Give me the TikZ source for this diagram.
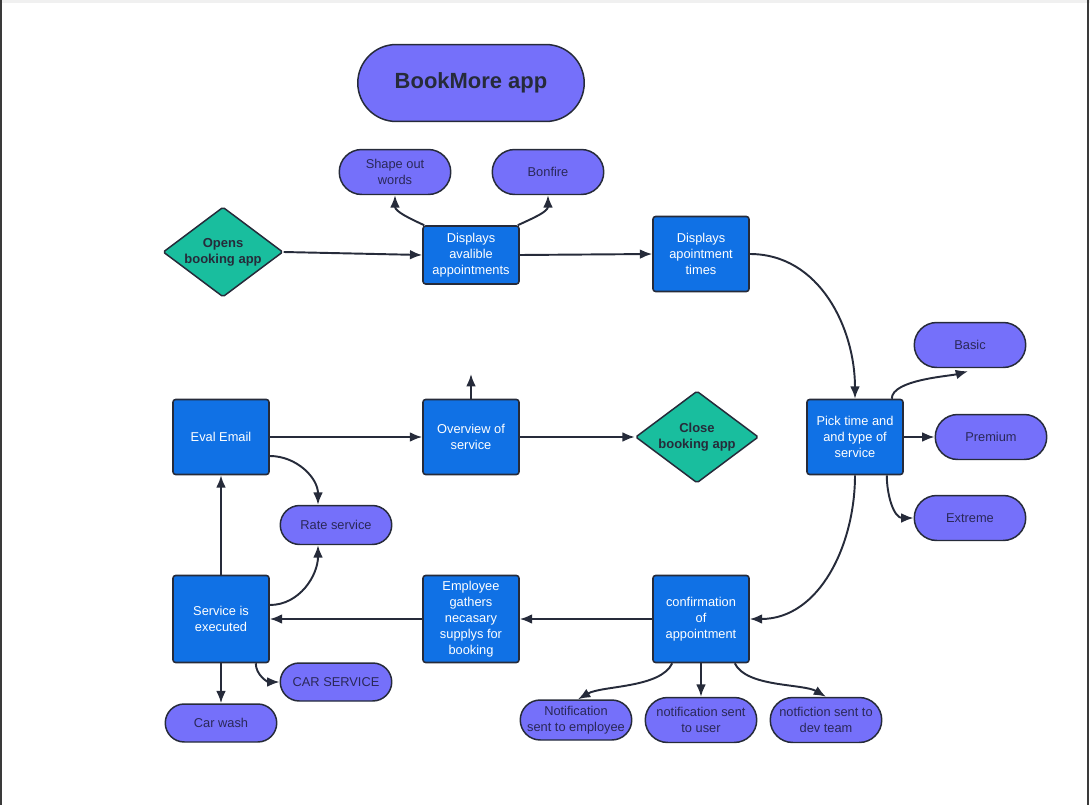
\documentclass[tikz,border=0pt]{standalone}
\usepackage{fontspec}
\setmainfont{Liberation Sans}
\usetikzlibrary{
    arrows.meta,
    shapes.geometric,
    shapes.misc
}

\definecolor{boxblue}{HTML}{1071E5}
\definecolor{pillpurple}{HTML}{7570FA}
\definecolor{startteal}{HTML}{19BE9E}
\definecolor{edgedark}{HTML}{262B3A}
\definecolor{pilltext}{HTML}{2A2858}
\definecolor{framegray}{HTML}{3A3A3A}

\begin{document}
\begin{tikzpicture}[x=0.02cm, y=-0.02cm,
    every node/.style={font=\fontsize{7.3}{9.1}\selectfont, align=center},
    task/.style={draw=edgedark, fill=boxblue, text=white, rounded corners=1.5pt,
        line width=0.9pt, minimum width=1.92cm, minimum height=1.5cm, inner sep=1pt},
    pill/.style={rounded rectangle, draw=edgedark, fill=pillpurple, text=pilltext,
        line width=0.85pt, minimum width=2.3cm, minimum height=0.9cm, inner sep=1pt},
    choice/.style={diamond, aspect=1.35, draw=edgedark, fill=startteal, text=edgedark,
        line width=0.85pt, minimum width=2.4cm, minimum height=1.8cm, inner sep=0pt,
        rounded corners=1pt, font=\fontsize{7.4}{9}\selectfont\bfseries},
    link/.style={draw=edgedark, line width=1.1pt, -{Latex[length=7pt,width=5.5pt]}}
]
    \useasboundingbox (0,0) rectangle (1090,805);
    \fill[black!6] (0,0) rectangle (1090,3);
    \draw[framegray, line width=0.8pt] (1,0) -- (1,805);
    \draw[framegray, line width=0.8pt] (1088,0) -- (1088,805);

    % title
    \node[pill, minimum width=4.6cm, minimum height=1.54cm,
        font=\fontsize{12.5}{14}\selectfont\bfseries, text=edgedark] (title) at (471,83) {BookMore app};

    % top row
    \node[choice] (open) at (223,252) {Opens\\booking app};
    \node[task, minimum height=1.16cm] (avail) at (471,255) {Displays\\avalible\\appointments};
    \node[pill] (shape) at (395,172) {Shape out\\words};
    \node[pill] (bonfire) at (548,172) {Bonfire};
    \node[task] (times) at (701,254) {Displays\\apointment\\times};

    % right side
    \node[task] (pick) at (855,437) {Pick time and\\and type of\\service};
    \node[pill] (basic) at (970,345) {Basic};
    \node[pill] (premium) at (991,437) {Premium};
    \node[pill] (extreme) at (970,518) {Extreme};

    % middle row
    \node[choice, minimum width=2.46cm, minimum height=1.84cm] (close) at (697,437) {Close\\booking app};
    \node[task] (overview) at (471,437) {Overview of\\service};
    \node[task] (eval) at (221,437) {Eval Email};
    \node[pill, minimum height=0.78cm] (rate) at (336,525) {Rate service};
    \coordinate (up) at (471,374);

    % bottom row
    \node[task, minimum height=1.74cm] (exec) at (221,619) {Service is\\executed};
    \node[task, minimum height=1.74cm] (gather) at (471,619) {Employee\\gathers\\necasary\\supplys for\\booking};
    \node[task, minimum height=1.74cm] (confirm) at (701,619) {confirmation\\of\\appointment};
    \node[pill, minimum height=0.76cm] (carservice) at (336,682) {CAR SERVICE};
    \node[pill, minimum height=0.76cm] (carwash) at (221,723) {Car wash};
    \node[pill, minimum height=0.8cm] (notemp) at (576,720) {Notification\\sent to employee};
    \node[pill] (notuser) at (701,720) {notification sent\\to user};
    \node[pill] (notdev) at (826,720) {notfiction sent to\\dev team};

    % connectors
    \draw[link] (open.east) -- (avail.west);
    \draw[link] (avail.east) -- (times.west);
    \draw[link] ([xshift=0.04cm]avail.north west) to[out=155,in=-90] (shape.south);
    \draw[link] ([xshift=-0.04cm]avail.north east) to[out=25,in=-90] (bonfire.south);
    \draw[link] (times.east) to[out=0,in=90] (pick.north);
    \draw[link] ([xshift=-0.24cm]pick.north east) to[out=90,in=195,looseness=0.6] ([xshift=-0.04cm,yshift=-0.06cm]basic.south);
    \draw[link] (pick.east) -- (premium.west);
    \draw[link] ([xshift=-0.34cm]pick.south east) to[out=-90,in=180] (extreme.west);
    \draw[link] (pick.south) to[out=-90,in=0] (confirm.east);
    \draw[link] (overview.north) -- (up);
    \draw[link] (overview.east) -- (close.west);
    \draw[link] (eval.east) -- (overview.west);
    \draw[link] ([yshift=-0.38cm]eval.east) to[out=0,in=90] ([xshift=-0.36cm]rate.north);
    \draw[link] ([yshift=0.28cm]exec.east) to[out=0,in=-90] ([xshift=-0.36cm]rate.south);
    \draw[link] (exec.north) -- (eval.south);
    \draw[link] (gather.west) -- (exec.east);
    \draw[link] (confirm.west) -- (gather.east);
    \draw[link] (exec.south) -- (carwash.north);
    \draw[link] ([xshift=-0.28cm]exec.south east) to[out=-90,in=180] (carservice.west);
    \draw[link] ([xshift=0.4cm]confirm.south west) to[out=-115,in=30,looseness=0.7] ([xshift=0.04cm]notemp.north);
    \draw[link] (confirm.south) -- (notuser.north);
    \draw[link] ([xshift=-0.3cm]confirm.south east) to[out=-65,in=150,looseness=0.7] (notdev.north);
\end{tikzpicture}
\end{document}
